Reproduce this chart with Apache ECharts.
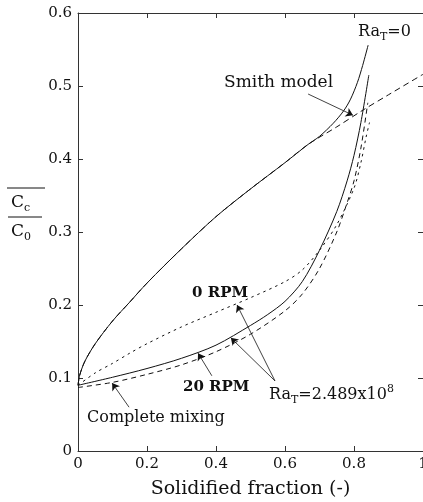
<!DOCTYPE html>
<html>
<head>
<meta charset="utf-8">
<script src="https://cdn.jsdelivr.net/npm/echarts@6/dist/echarts.min.js"></script>
<style>
  html, body { margin: 0; padding: 0; background: #fff; }
  #chart { width: 423px; height: 502px; }
</style>
</head>
<body>
<div id="chart"></div>
<script>
// Ra_T = 0 (solid, upper)
const raZeroX = [0, 0.005, 0.02, 0.05, 0.1, 0.15, 0.2, 0.3, 0.4, 0.5, 0.6, 0.667, 0.7, 0.74, 0.77, 0.79, 0.81, 0.825, 0.841];
const raZeroY = [0.09, 0.104, 0.123, 0.147, 0.178, 0.204, 0.23, 0.277, 0.321, 0.359, 0.395, 0.42, 0.431, 0.449, 0.466, 0.482, 0.505, 0.528, 0.556];

// Smith model (dashed)
const smithX = [0, 0.005, 0.02, 0.05, 0.1, 0.15, 0.2, 0.3, 0.4, 0.5, 0.6, 0.667, 0.75, 0.826, 0.9, 1.0];
const smithY = [0.09, 0.104, 0.123, 0.147, 0.178, 0.204, 0.23, 0.277, 0.321, 0.359, 0.395, 0.42, 0.444, 0.467, 0.488, 0.516];

// 20 RPM (solid, lower)
const rpm20X = [0, 0.1, 0.2, 0.3, 0.4, 0.5, 0.55, 0.6, 0.65, 0.7, 0.75, 0.78, 0.8, 0.82, 0.843];
const rpm20Y = [0.09, 0.101, 0.113, 0.127, 0.145, 0.172, 0.187, 0.205, 0.232, 0.275, 0.328, 0.37, 0.405, 0.45, 0.515];

// 0 RPM (dotted)
const rpm0X = [0, 0.05, 0.1, 0.15, 0.2, 0.3, 0.4, 0.5, 0.6, 0.65, 0.7, 0.75, 0.8, 0.82, 0.835, 0.845];
const rpm0Y = [0.09, 0.107, 0.12, 0.134, 0.147, 0.17, 0.19, 0.21, 0.232, 0.248, 0.275, 0.31, 0.36, 0.395, 0.43, 0.45];

// Complete mixing (dashed)
const mixX = [0, 0.1, 0.2, 0.3, 0.4, 0.5, 0.6, 0.65, 0.7, 0.75, 0.78, 0.8, 0.82, 0.84];
const mixY = [0.087, 0.094, 0.105, 0.118, 0.136, 0.16, 0.192, 0.215, 0.25, 0.3, 0.34, 0.37, 0.415, 0.477];

// annotation arrows, data coords [x, y]
const arrowFrom = [[0.667, 0.489], [0.388, 0.103], [0.148, 0.06], [0.571, 0.096], [0.571, 0.096]];
const arrowTo   = [[0.797, 0.46], [0.348, 0.134], [0.099, 0.093], [0.461, 0.2], [0.443, 0.155]];

const xTicks = [0, 0.2, 0.4, 0.6, 0.8, 1];
const yTicks = [0, 0.1, 0.2, 0.3, 0.4, 0.5, 0.6];

const SERIF = '"DejaVu Serif", "Liberation Serif", serif';

function pairs(xs, ys) {
  return xs.map((x, i) => [x, ys[i]]);
}

function curve(name, xs, ys, type, dash) {
  return {
    name: name,
    type: 'line',
    data: pairs(xs, ys),
    smooth: 0.3,
    showSymbol: false,
    silent: true,
    lineStyle: { color: '#111', width: 1, type: type === 'solid' ? 'solid' : dash },
  };
}

function textEl(x, y, text, rich, size) {
  return {
    type: 'text',
    x: x,
    y: y,
    silent: true,
    style: {
      text: text,
      fill: '#111',
      font: (size || 16) + 'px ' + SERIF,
      verticalAlign: 'middle',
      align: 'left',
      rich: rich,
    },
  };
}

const richSub = {
  m: { fontFamily: SERIF, fontSize: 16, lineHeight: 22, verticalAlign: 'middle', color: '#111' },
  c: { fontFamily: SERIF, fontSize: 17, lineHeight: 22, verticalAlign: 'middle', color: '#111' },
  s: { fontFamily: SERIF, fontSize: 11, lineHeight: 12, verticalAlign: 'bottom', color: '#111' },
  p: { fontFamily: SERIF, fontSize: 11, lineHeight: 12, verticalAlign: 'top', color: '#111' },
  b: { fontFamily: SERIF, fontSize: 15, fontWeight: 'bold', lineHeight: 22, color: '#111' },
};

const chart = echarts.init(document.getElementById('chart'), null, { renderer: 'canvas' });

const axisCommon = {
  type: 'value',
  splitLine: { show: false },
  axisLine: { show: true, onZero: false, lineStyle: { color: '#333', width: 1 } },
  axisTick: { show: true, inside: true, length: 5, lineStyle: { color: '#333' } },
};

const smithSeries = curve('Smith model', smithX, smithY, 'dashed', [6, 4]);
smithSeries.markLine = {
  silent: true,
  animation: false,
  symbol: ['none', 'arrow'],
  symbolSize: 7,
  label: { show: false },
  lineStyle: { color: '#111', width: 0.8, type: 'solid' },
  data: arrowFrom.map((f, i) => [{ coord: f }, { coord: arrowTo[i] }]),
};

chart.setOption({
  animation: false,
  backgroundColor: '#fff',
  grid: { left: 78, right: 0, top: 13, bottom: 51, outerBoundsMode: 'none', containLabel: false },
  xAxis: [
    Object.assign({}, axisCommon, {
      min: 0, max: 1, interval: 0.2, position: 'bottom',
      axisLabel: {
        color: '#111', fontFamily: SERIF, fontSize: 15, margin: 6,
        formatter: v => (xTicks.indexOf(v) >= 0 ? String(v) : ''),
      },
      name: 'Solidified fraction (-)',
      nameLocation: 'middle',
      nameGap: 29,
      nameTextStyle: { color: '#111', fontFamily: SERIF, fontSize: 19 },
    }),
    Object.assign({}, axisCommon, {
      min: 0, max: 1, interval: 0.2, position: 'top',
      axisLabel: { show: false },
    }),
  ],
  yAxis: [
    Object.assign({}, axisCommon, {
      min: 0, max: 0.6, interval: 0.1, position: 'left',
      axisLabel: {
        color: '#111', fontFamily: SERIF, fontSize: 15, margin: 6,
        formatter: v => {
          const t = yTicks.find(k => Math.abs(k - v) < 1e-9);
          return t === undefined ? '' : String(t);
        },
      },
    }),
    Object.assign({}, axisCommon, {
      min: 0, max: 0.6, interval: 0.1, position: 'right',
      axisLabel: { show: false },
    }),
  ],
  series: [
    curve('Ra_T=0', raZeroX, raZeroY, 'solid'),
    smithSeries,
    curve('20 RPM', rpm20X, rpm20Y, 'solid'),
    curve('0 RPM', rpm0X, rpm0Y, 'dashed', [2.5, 4]),
    curve('Complete mixing', mixX, mixY, 'dashed', [5, 4]),
  ],
  graphic: [
    // y-axis name: overline Cc over C0
    { type: 'line', silent: true, shape: { x1: 7, y1: 188, x2: 45, y2: 188 }, style: { stroke: '#111', lineWidth: 1 } },
    textEl(11, 203, '{c|C}{s|c}', richSub),
    { type: 'line', silent: true, shape: { x1: 8, y1: 217, x2: 42, y2: 217 }, style: { stroke: '#111', lineWidth: 1 } },
    textEl(11, 232, '{c|C}{s|0}', richSub),
    // annotations
    textEl(358, 32, '{m|Ra}{s|T}{m|=0}', richSub),
    textEl(224, 83, 'Smith model', null, 17),
    textEl(192, 293, '{b|0 RPM}', richSub),
    textEl(183, 387, '{b|20 RPM}', richSub),
    textEl(269, 395, '{m|Ra}{s|T}{m|=2.489x10}{p|8}', richSub),
    textEl(87, 418, 'Complete mixing'),
  ],
});
</script>
</body>
</html>
